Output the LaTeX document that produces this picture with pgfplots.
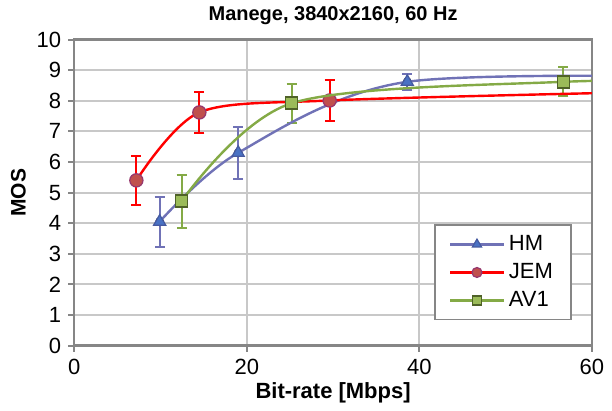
\documentclass[border=0pt]{standalone}
\usepackage{pgfplots}
\pgfplotsset{compat=1.18}
\usepackage{fontspec}
\setmainfont{Liberation Sans}

\definecolor{hmline}{RGB}{112,114,182}
\definecolor{hmfill}{RGB}{74,114,196}
\definecolor{hmedge}{RGB}{70,90,160}
\definecolor{jemline}{RGB}{255,0,0}
\definecolor{jemfill}{RGB}{192,80,77}
\definecolor{jemedge}{RGB}{150,55,110}
\definecolor{avline}{RGB}{132,170,70}
\definecolor{avfill}{RGB}{155,187,89}
\definecolor{avedge}{RGB}{79,98,40}
\definecolor{gridc}{RGB}{200,200,200}
\definecolor{axc}{RGB}{134,134,134}

\begin{document}
\begin{tikzpicture}
\begin{axis}[
  scale only axis,
  width=258bp, height=152.5bp,
  xmin=0, xmax=60, ymin=0, ymax=10,
  xtick={0,20,40,60}, ytick={0,1,...,10},
  xtick pos=left, ytick pos=left,
  tick align=outside, major tick length=3bp,
  tick style={color=axc, line width=1bp},
  grid=major,
  major grid style={color=gridc, line width=1bp},
  axis line style={color=axc, line width=1.2bp},
  clip marker paths=true,
  /pgf/number format/assume math mode=true,
  tick label style={font=\fontsize{11}{13}\selectfont},
  every axis title shift=0pt,
  title={\bfseries Manege, 3840x2160, 60 Hz},
  title style={at={(axis description cs:0.5,1.062)}, anchor=base, yshift=0pt, font=\fontsize{10}{12}\selectfont},
  xlabel={\bfseries Bit-rate [Mbps]},
  xlabel style={at={(axis description cs:0.5,-0.174)}, anchor=base, font=\fontsize{11}{13}\selectfont},
  ylabel={\bfseries MOS},
  ylabel style={at={(axis description cs:-0.094,0.5)}, anchor=base, font=\fontsize{10.5}{12}\selectfont},
  legend style={at={(axis description cs:0.961,0.082)}, anchor=south east,
    draw=axc, line width=0.8bp, font=\fontsize{11}{13}\selectfont,
    inner xsep=7bp, inner ysep=3bp, row sep=1bp},
  legend cell align=left,
  legend image code/.code={
    \draw[mark repeat=2, mark phase=2, every mark/.append style={scale=0.75}]
      plot coordinates {(0cm,0cm) (0.47cm,0cm) (0.94cm,0cm)};
  },
]

% error bars first, markers sit on top
\addplot[forget plot, only marks, mark=none,
  error bars/.cd, y dir=both, y explicit,
  error bar style={draw=hmline, line width=1bp},
  error mark options={draw=hmline, line width=1bp, mark size=2.5bp, rotate=90}]
  coordinates {(9.9,4.05) +- (0,0.82) (19.0,6.3) +- (0,0.85) (38.6,8.62) +- (0,0.26)};
\addplot[forget plot, only marks, mark=none,
  error bars/.cd, y dir=both, y explicit,
  error bar style={draw=jemline, line width=1bp},
  error mark options={draw=jemline, line width=1bp, mark size=2.5bp, rotate=90}]
  coordinates {(7.2,5.4) +- (0,0.8) (14.5,7.62) +- (0,0.66) (29.6,8.01) +- (0,0.66)};
\addplot[forget plot, only marks, mark=none,
  error bars/.cd, y dir=both, y explicit,
  error bar style={draw=avline, line width=1bp},
  error mark options={draw=avline, line width=1bp, mark size=2.5bp, rotate=90}]
  coordinates {(12.45,4.72) +- (0,0.87) (25.2,7.92) +- (0,0.63) (56.7,8.62) +- (0,0.47)};

% last point of each series lies beyond 60 and is clipped
\addplot[smooth, color=hmline, line width=1.2bp, mark=triangle*, mark size=3.5bp,
  mark options={fill=hmfill, draw=hmedge, line width=0.6bp}]
  coordinates {(9.9,4.05) (19.0,6.3) (38.6,8.62) (80,8.76)};
\addlegendentry{HM}
\addplot[smooth, color=jemline, line width=1.2bp, mark=*, mark size=3.3bp,
  mark options={fill=jemfill, draw=jemedge, line width=0.6bp}]
  coordinates {(7.2,5.4) (14.5,7.62) (29.6,8.01) (62,8.26)};
\addlegendentry{JEM}
\addplot[smooth, color=avline, line width=1.2bp, mark=square*, mark size=3bp,
  mark options={fill=avfill, draw=avedge, line width=0.8bp}]
  coordinates {(12.45,4.72) (25.2,7.92) (56.7,8.62) (90,8.7)};
\addlegendentry{AV1}

\end{axis}
\path (current axis.south west) ++(-37bp,-31.5bp) rectangle ([shift={(10bp,19bp)}]current axis.north east);
\end{tikzpicture}
\end{document}
